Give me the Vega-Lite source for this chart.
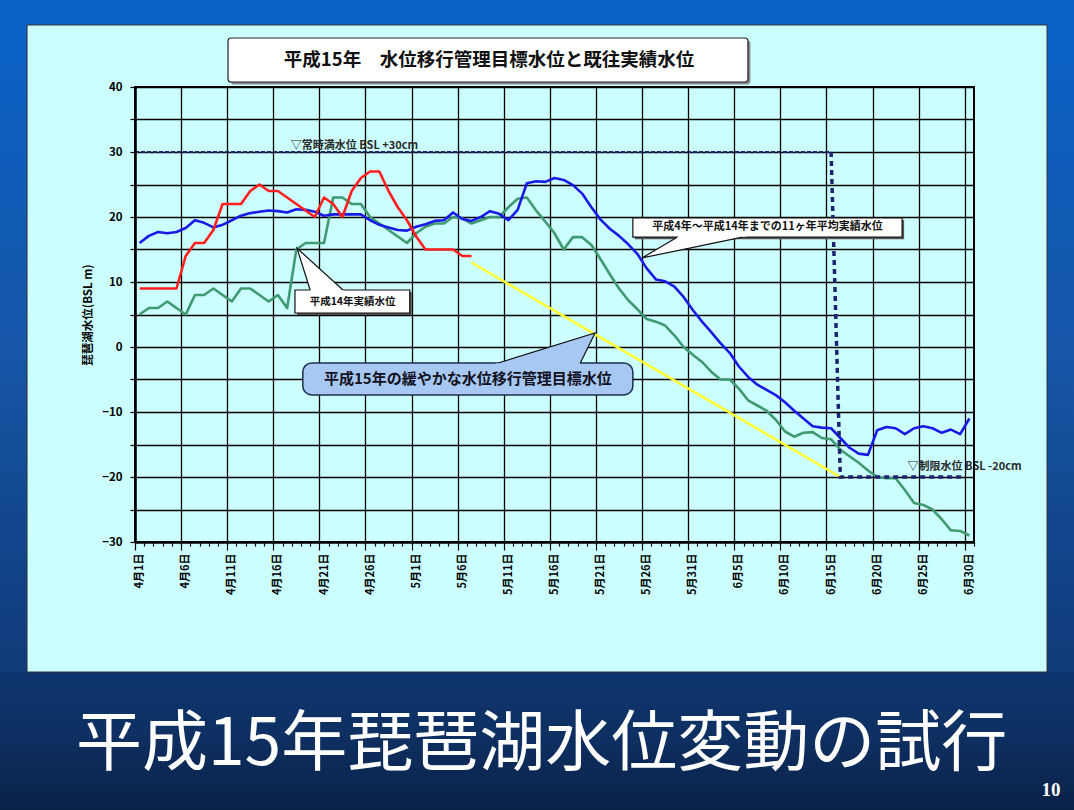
{
 "$schema": "https://vega.github.io/schema/vega-lite/v6.json",
 "width": 839, "height": 455,
 "autosize": {"type": "none"},
 "padding": {"left": 135, "top": 87, "right": 100, "bottom": 268},
 "background": "#0c2b5a",
 "config": {"view": {"fill": "#ccffff", "stroke": null}, "font": "Noto Sans CJK JP"},
 "datasets": {
  "levels": [
   {"d":0,"a":16.0,"g":5,"r":9},{"d":1,"a":17.1,"g":6,"r":9},{"d":2,"a":17.7,"g":6,"r":9},{"d":3,"a":17.5,"g":7,"r":9},{"d":4,"a":17.7,"g":6,"r":9},
   {"d":5,"a":18.3,"g":5,"r":14},{"d":6,"a":19.5,"g":8,"r":16},{"d":7,"a":19.1,"g":8,"r":16},{"d":8,"a":18.4,"g":9,"r":18},{"d":9,"a":18.8,"g":8,"r":22},
   {"d":10,"a":19.5,"g":7,"r":22},{"d":11,"a":20.2,"g":9,"r":22},{"d":12,"a":20.6,"g":9,"r":24},{"d":13,"a":20.8,"g":8,"r":25},{"d":14,"a":21.0,"g":7,"r":24},
   {"d":15,"a":20.9,"g":8,"r":24},{"d":16,"a":20.7,"g":6,"r":23},{"d":17,"a":21.2,"g":15,"r":22},{"d":18,"a":21.1,"g":16,"r":21},{"d":19,"a":20.8,"g":16,"r":20},
   {"d":20,"a":20.2,"g":16,"r":23},{"d":21,"a":20.4,"g":23,"r":22},{"d":22,"a":20.4,"g":23,"r":20},{"d":23,"a":20.4,"g":22,"r":24},{"d":24,"a":20.4,"g":22,"r":26},
   {"d":25,"a":19.5,"g":20,"r":27},{"d":26,"a":18.8,"g":19,"r":27},{"d":27,"a":18.4,"g":18,"r":24},{"d":28,"a":18.0,"g":17,"r":21.5},{"d":29,"a":17.9,"g":16,"r":19.5},
   {"d":30,"a":18.5,"g":17.5,"r":17},{"d":31,"a":18.9,"g":18.5,"r":15},{"d":32,"a":19.4,"g":19,"r":15},{"d":33,"a":19.5,"g":19,"r":15},{"d":34,"a":20.7,"g":20,"r":15},
   {"d":35,"a":19.7,"g":19.8,"r":14},{"d":36,"a":19.4,"g":19,"r":14},{"d":37,"a":20.0,"g":19.5},{"d":38,"a":20.9,"g":20},{"d":39,"a":20.5,"g":20},
   {"d":40,"a":19.5,"g":21.5},{"d":41,"a":21.1,"g":22.8},{"d":42,"a":25.2,"g":23},{"d":43,"a":25.5,"g":21},{"d":44,"a":25.4,"g":19.3},
   {"d":45,"a":26.0,"g":17.5},{"d":46,"a":25.7,"g":15},{"d":47,"a":24.9,"g":16.9},{"d":48,"a":23.6,"g":16.9},{"d":49,"a":21.5,"g":15.7},
   {"d":50,"a":19.6,"g":13.5},{"d":51,"a":18.2,"g":11.2},{"d":52,"a":17.1,"g":9},{"d":53,"a":15.8,"g":7.2},{"d":54,"a":14.3,"g":5.8},
   {"d":55,"a":12.1,"g":4.3},{"d":56,"a":10.4,"g":3.9},{"d":57,"a":10.1,"g":3.3},{"d":58,"a":9.3,"g":1.8},{"d":59,"a":7.7,"g":0},
   {"d":60,"a":5.7,"g":-1.2},{"d":61,"a":3.9,"g":-2.3},{"d":62,"a":2.3,"g":-3.8},{"d":63,"a":0.6,"g":-5},{"d":64,"a":-0.9,"g":-5},
   {"d":65,"a":-3.0,"g":-6.4},{"d":66,"a":-4.6,"g":-8.2},{"d":67,"a":-5.8,"g":-9},{"d":68,"a":-6.6,"g":-9.8},{"d":69,"a":-7.4,"g":-11.2},
   {"d":70,"a":-8.5,"g":-13},{"d":71,"a":-9.8,"g":-13.8},{"d":72,"a":-11.0,"g":-13.2},{"d":73,"a":-12.2,"g":-13.1},{"d":74,"a":-12.4,"g":-14},
   {"d":75,"a":-12.5,"g":-14.2},{"d":76,"a":-14.0,"g":-15.8},{"d":77,"a":-15.5,"g":-16.8},{"d":78,"a":-16.4,"g":-17.8},{"d":79,"a":-16.6,"g":-19},
   {"d":80,"a":-12.8,"g":-20},{"d":81,"a":-12.3,"g":-20.2},{"d":82,"a":-12.5,"g":-20.2},{"d":83,"a":-13.4,"g":-22},{"d":84,"a":-12.5,"g":-24},
   {"d":85,"a":-12.2,"g":-24.3},{"d":86,"a":-12.5,"g":-25},{"d":87,"a":-13.2,"g":-26.5},{"d":88,"a":-12.7,"g":-28.2},{"d":89,"a":-13.4,"g":-28.3},
   {"d":90,"a":-11.0,"g":-29}
  ],
  "target": [{"d":36,"v":13},{"d":76,"v":-20}],
  "refTop": [{"d":-0.5,"v":30},{"d":75,"v":30}],
  "refDrop": [{"d":75,"v":30},{"d":76,"v":-20},{"d":89.5,"v":-20}]
 },
 "resolve": {"axis": {"x": "independent", "y": "independent"}},
 "layer": [
  {
   "data": {"values": [{"x1":-15.2,"x2":-12.21,"y1":49.54,"y2":-50},{"x1":98.42,"x2":101.4,"y1":49.54,"y2":-50}]},
   "mark": {"type": "rect", "color": {"gradient": "linear", "x1": 0, "y1": 0, "x2": 0, "y2": 1, "stops": [{"offset": 0, "color": "#0a62c6"}, {"offset": 0.5, "color": "#1656a8"}, {"offset": 1, "color": "#0f3a78"}]}},
   "encoding": {
    "x": {"field": "x1", "type": "quantitative", "scale": {"domain": [-0.5, 90.5], "nice": false, "zero": false}, "axis": null},
    "x2": {"field": "x2"},
    "y": {"field": "y1", "type": "quantitative", "scale": {"domain": [-30, 40], "nice": false, "zero": false}, "axis": null},
    "y2": {"field": "y2"}
   }
  },
  {
   "data": {"values": [{"x1":-15.2,"x2":101.4,"y1":53.4,"y2":49.54}]},
   "mark": {"type": "rect", "color": "#0a62c6"},
   "encoding": {"x": {"field": "x1", "type": "quantitative", "axis": null}, "x2": {"field": "x2"}, "y": {"field": "y1", "type": "quantitative", "axis": null}, "y2": {"field": "y2"}}
  },
  {
   "data": {"values": [{"x1":-15.2,"x2":101.4,"y1":-50,"y2":-71.3}]},
   "mark": {"type": "rect", "color": {"gradient": "linear", "x1": 0, "y1": 0, "x2": 0, "y2": 1, "stops": [{"offset": 0, "color": "#0f3670"}, {"offset": 0.45, "color": "#0e3062"}, {"offset": 1, "color": "#0a2148"}]}},
   "encoding": {"x": {"field": "x1", "type": "quantitative", "axis": null}, "x2": {"field": "x2"}, "y": {"field": "y1", "type": "quantitative", "axis": null}, "y2": {"field": "y2"}}
  },
  {
   "data": {"values": [
    {"x1":-12.21,"x2":98.42,"y1":49.54,"y2":40},
    {"x1":-12.21,"x2":98.42,"y1":-30,"y2":-50},
    {"x1":-12.21,"x2":-0.5,"y1":40,"y2":-30},
    {"x1":90.5,"x2":98.42,"y1":40,"y2":-30}
   ]},
   "mark": {"type": "rect", "color": "#ccffff"},
   "encoding": {"x": {"field": "x1", "type": "quantitative", "axis": null}, "x2": {"field": "x2"}, "y": {"field": "y1", "type": "quantitative", "axis": null}, "y2": {"field": "y2"}}
  },
  {
   "data": {"values": [{"x1":-12.21,"x2":98.42,"y1":49.54,"y2":-50}]},
   "mark": {"type": "rect", "fill": "#ffffff", "fillOpacity": 0, "stroke": "#333333", "strokeWidth": 1},
   "encoding": {"x": {"field": "x1", "type": "quantitative", "axis": null}, "x2": {"field": "x2"}, "y": {"field": "y1", "type": "quantitative", "axis": null}, "y2": {"field": "y2"}}
  },
  {
   "data": {"values": [{"x1":9.86,"x2":66.25,"y1":47.16,"y2":40.39}]},
   "mark": {"type": "rect", "color": "#8a8a8a", "cornerRadius": 3},
   "encoding": {"x": {"field": "x1", "type": "quantitative", "axis": null}, "x2": {"field": "x2"}, "y": {"field": "y1", "type": "quantitative", "axis": null}, "y2": {"field": "y2"}}
  },
  {
   "data": {"values": [{"x1":9.59,"x2":65.98,"y1":47.54,"y2":40.77}]},
   "mark": {"type": "rect", "fill": "#ffffff", "stroke": "#222222", "strokeWidth": 1.2, "cornerRadius": 3},
   "encoding": {"x": {"field": "x1", "type": "quantitative", "axis": null}, "x2": {"field": "x2"}, "y": {"field": "y1", "type": "quantitative", "axis": null}, "y2": {"field": "y2"}}
  },
  {
   "data": {"values": [{"t":"平成15年　水位移行管理目標水位と既往実績水位","x":37.9,"y":44.15}]},
   "mark": {"type": "text", "fontSize": 18.5, "fontWeight": "bold", "color": "#111111", "align": "center", "baseline": "middle"},
   "encoding": {"x": {"field": "x", "type": "quantitative", "axis": null}, "y": {"field": "y", "type": "quantitative", "axis": null}, "text": {"field": "t"}}
  },
  {
   "data": {"name": "levels"},
   "mark": {"type": "line", "color": "#3f9a72", "strokeWidth": 2.6, "strokeJoin": "round"},
   "encoding": {
    "x": {"field": "d", "type": "quantitative", "scale": {"domain": [-0.5, 90.5], "nice": false, "zero": false},
     "axis": {"orient": "bottom", "values": [-0.5,4.5,9.5,14.5,19.5,24.5,29.5,34.5,39.5,44.5,49.5,54.5,59.5,64.5,69.5,74.5,79.5,84.5,89.5], "grid": true, "gridColor": "#000000", "gridWidth": 1.3, "gridOpacity": 1, "ticks": false, "labels": false, "domain": false, "title": null, "zindex": 0}},
    "y": {"field": "g", "type": "quantitative", "scale": {"domain": [-30, 40], "nice": false, "zero": false},
     "axis": {"orient": "left", "values": [-30,-25,-20,-15,-10,-5,0,5,10,15,20,25,30,35,40], "grid": true, "gridColor": "#000000", "gridWidth": 1.3, "gridOpacity": 1, "ticks": false, "labels": false, "domain": false, "title": null, "zindex": 0}}
   }
  },
  {
   "data": {"name": "levels"},
   "mark": {"type": "line", "color": "#1a1ae6", "strokeWidth": 2.6, "strokeJoin": "round"},
   "encoding": {
    "x": {"field": "d", "type": "quantitative",
     "axis": {"orient": "bottom", "values": [-0.5,0.5,1.5,2.5,3.5,4.5,5.5,6.5,7.5,8.5,9.5,10.5,11.5,12.5,13.5,14.5,15.5,16.5,17.5,18.5,19.5,20.5,21.5,22.5,23.5,24.5,25.5,26.5,27.5,28.5,29.5,30.5,31.5,32.5,33.5,34.5,35.5,36.5,37.5,38.5,39.5,40.5,41.5,42.5,43.5,44.5,45.5,46.5,47.5,48.5,49.5,50.5,51.5,52.5,53.5,54.5,55.5,56.5,57.5,58.5,59.5,60.5,61.5,62.5,63.5,64.5,65.5,66.5,67.5,68.5,69.5,70.5,71.5,72.5,73.5,74.5,75.5,76.5,77.5,78.5,79.5,80.5,81.5,82.5,83.5,84.5,85.5,86.5,87.5,88.5,89.5,90.5],
      "grid": false, "ticks": true, "tickColor": "#000000", "tickWidth": 1.2,
      "tickSize": {"condition": {"test": "(datum.value + 0.5) % 5 === 0", "value": 8}, "value": 4},
      "labels": false, "domain": true, "domainColor": "#000000", "domainWidth": 2.5, "title": null, "zindex": 1}},
    "y": {"field": "a", "type": "quantitative",
     "axis": {"orient": "left", "values": [-30,-25,-20,-15,-10,-5,0,5,10,15,20,25,30,35,40],
      "labelExpr": "datum.value % 10 === 0 ? datum.label : ''",
      "tickSize": 5, "tickColor": "#000000", "tickWidth": 1.2, "labelPadding": 8, "labelFontSize": 11.5, "labelFontWeight": "bold", "labelColor": "#000000",
      "domain": true, "domainColor": "#000000", "domainWidth": 2.5, "grid": false,
      "title": "琵琶湖水位(BSL m)", "titleFontSize": 11.5, "titleFontWeight": "bold", "titleColor": "#000000", "titlePadding": 8, "zindex": 1}}
   }
  },
  {
   "data": {"name": "levels"},
   "transform": [{"filter": "isValid(datum.r)"}],
   "mark": {"type": "line", "color": "#ff1f1f", "strokeWidth": 2.6, "strokeJoin": "round"},
   "encoding": {
    "x": {"field": "d", "type": "quantitative",
     "axis": {"orient": "bottom", "values": [0,5,10,15,20,25,30,35,40,45,50,55,60,65,70,75,80,85,90],
      "labelExpr": "timeFormat(datetime(2003, 3, 1 + datum.value), '%-m月%-d日')",
      "labelAngle": 270, "labelAlign": "right", "labelBaseline": "middle", "labelPadding": 11,
      "labelFontSize": 11, "labelFontWeight": "bold", "labelColor": "#000000", "labelOverlap": false, "labelFlush": false,
      "ticks": false, "grid": false, "domain": false, "title": null, "zindex": 1}},
    "y": {"field": "r", "type": "quantitative", "axis": null}
   }
  },
  {
   "data": {"name": "target"},
   "mark": {"type": "line", "color": "#ffff33", "strokeWidth": 2.6},
   "encoding": {"x": {"field": "d", "type": "quantitative", "axis": null}, "y": {"field": "v", "type": "quantitative", "axis": null}}
  },
  {
   "data": {"name": "refTop"},
   "mark": {"type": "line", "color": "#1c2370", "strokeWidth": 2, "strokeDash": [4, 2]},
   "encoding": {"x": {"field": "d", "type": "quantitative", "axis": null}, "y": {"field": "v", "type": "quantitative", "axis": null}}
  },
  {
   "data": {"name": "refDrop"},
   "mark": {"type": "line", "color": "#1c2370", "strokeWidth": 3.5, "strokeDash": [5, 4]},
   "encoding": {"x": {"field": "d", "type": "quantitative", "axis": null}, "y": {"field": "v", "type": "quantitative", "axis": null}}
  },
  {
   "data": {"values": [{"t":"▽常時満水位  BSL +30cm","x":16.4,"y":31.0},{"t":"▽制限水位  BSL -20cm","x":83.3,"y":-18.5}]},
   "mark": {"type": "text", "fontSize": 11, "fontWeight": "bold", "color": "#2a2a2a", "align": "left", "baseline": "middle"},
   "encoding": {"x": {"field": "x", "type": "quantitative", "axis": null}, "y": {"field": "y", "type": "quantitative", "axis": null}, "text": {"field": "t"}}
  },
  {
   "data": {"values": [{"x1":17.07,"x2":29.52,"y1":8.46,"y2":4.92},{"x1":53.72,"x2":82.92,"y1":19.54,"y2":16.59}]},
   "mark": {"type": "rect", "color": "#555555"},
   "encoding": {"x": {"field": "x1", "type": "quantitative", "axis": null}, "x2": {"field": "x2"}, "y": {"field": "y1", "type": "quantitative", "axis": null}, "y2": {"field": "y2"}}
  },
  {
   "data": {"values": [{"x1":16.85,"x2":29.3,"y1":8.77,"y2":5.23},{"x1":53.5,"x2":82.7,"y1":19.85,"y2":16.9}]},
   "mark": {"type": "rect", "fill": "#ffffff", "stroke": "#111111", "strokeWidth": 1.2},
   "encoding": {"x": {"field": "x1", "type": "quantitative", "axis": null}, "x2": {"field": "x2"}, "y": {"field": "y1", "type": "quantitative", "axis": null}, "y2": {"field": "y2"}}
  },
  {
   "data": {"values": [{"x1":17.7,"x2":53.5,"y1":-2.46,"y2":-7.38}]},
   "mark": {"type": "rect", "fill": "#a6c8f2", "stroke": "#1f2f4f", "strokeWidth": 1.5, "cornerRadius": 9},
   "encoding": {"x": {"field": "x1", "type": "quantitative", "axis": null}, "x2": {"field": "x2"}, "y": {"field": "y1", "type": "quantitative", "axis": null}, "y2": {"field": "y2"}}
  },
  {
   "data": {"values": [
    {"id":"p14","y":15.2,"x":17.07,"x2":17.07},{"id":"p14","y":8.4,"x":18.58,"x2":22.35},
    {"id":"pavg","y":13.7,"x":54.5,"x2":54.5},{"id":"pavg","y":17.3,"x":58.78,"x2":66.76},
    {"id":"p15","y":2.15,"x":49.4,"x2":49.4},{"id":"p15","y":-2.86,"x":37.99,"x2":47.66}
   ]},
   "mark": {"type": "area", "orient": "horizontal"},
   "encoding": {
    "y": {"field": "y", "type": "quantitative", "axis": null},
    "x": {"field": "x", "type": "quantitative", "axis": null},
    "x2": {"field": "x2"},
    "detail": {"field": "id"},
    "fill": {"field": "id", "type": "nominal", "scale": {"domain": ["p14", "pavg", "p15"], "range": ["#ffffff", "#ffffff", "#a6c8f2"]}, "legend": null}
   }
  },
  {
   "data": {"values": [
    {"id":"p14","k":0,"x":18.5,"y":8.77},{"id":"p14","k":1,"x":17.07,"y":15.2},{"id":"p14","k":2,"x":22.06,"y":8.77},
    {"id":"pavg","k":0,"x":58.3,"y":16.9},{"id":"pavg","k":1,"x":54.5,"y":13.7},{"id":"pavg","k":2,"x":65.4,"y":16.9},
    {"id":"p15","k":0,"x":38.9,"y":-2.46},{"id":"p15","k":1,"x":49.4,"y":2.15},{"id":"p15","k":2,"x":47.8,"y":-2.46}
   ]},
   "mark": {"type": "line", "color": "#111111", "strokeWidth": 1.2},
   "encoding": {
    "x": {"field": "x", "type": "quantitative", "axis": null},
    "y": {"field": "y", "type": "quantitative", "axis": null},
    "detail": {"field": "id"},
    "order": {"field": "k"}
   }
  },
  {
   "data": {"values": [{"t":"平成14年実績水位","x":23.1,"y":7.0}]},
   "mark": {"type": "text", "fontSize": 10.5, "fontWeight": "bold", "color": "#111111", "align": "center", "baseline": "middle"},
   "encoding": {"x": {"field": "x", "type": "quantitative", "axis": null}, "y": {"field": "y", "type": "quantitative", "axis": null}, "text": {"field": "t"}}
  },
  {
   "data": {"values": [{"t":"平成4年～平成14年までの11ヶ年平均実績水位","x":68.1,"y":18.4}]},
   "mark": {"type": "text", "fontSize": 11, "fontWeight": "bold", "color": "#111111", "align": "center", "baseline": "middle"},
   "encoding": {"x": {"field": "x", "type": "quantitative", "axis": null}, "y": {"field": "y", "type": "quantitative", "axis": null}, "text": {"field": "t"}}
  },
  {
   "data": {"values": [{"t":"平成15年の緩やかな水位移行管理目標水位","x":35.6,"y":-4.9}]},
   "mark": {"type": "text", "fontSize": 15, "fontWeight": "bold", "color": "#111122", "align": "center", "baseline": "middle"},
   "encoding": {"x": {"field": "x", "type": "quantitative", "axis": null}, "y": {"field": "y", "type": "quantitative", "axis": null}, "text": {"field": "t"}}
  },
  {
   "data": {"values": [{"t":"平成15年琵琶湖水位変動の試行","x":43.6,"y":-61.2}]},
   "mark": {"type": "text", "fontSize": 66, "fontWeight": "normal", "color": "#ffffff", "align": "center", "baseline": "middle"},
   "encoding": {"x": {"field": "x", "type": "quantitative", "axis": null}, "y": {"field": "y", "type": "quantitative", "axis": null}, "text": {"field": "t"}}
  },
  {
   "data": {"values": [{"t":"10","x":98.85,"y":-68.15}]},
   "mark": {"type": "text", "fontSize": 19, "fontWeight": "bold", "font": "Liberation Serif", "color": "#ffffff", "align": "center", "baseline": "middle"},
   "encoding": {"x": {"field": "x", "type": "quantitative", "axis": null}, "y": {"field": "y", "type": "quantitative", "axis": null}, "text": {"field": "t"}}
  },
  {
   "data": {"values": [{"x1":-0.5,"x2":90.5,"y1":40,"y2":-30}]},
   "mark": {"type": "rect", "fill": "#ffffff", "fillOpacity": 0, "stroke": "#000000", "strokeWidth": 2},
   "encoding": {"x": {"field": "x1", "type": "quantitative", "axis": null}, "x2": {"field": "x2"}, "y": {"field": "y1", "type": "quantitative", "axis": null}, "y2": {"field": "y2"}}
  }
 ]
}
